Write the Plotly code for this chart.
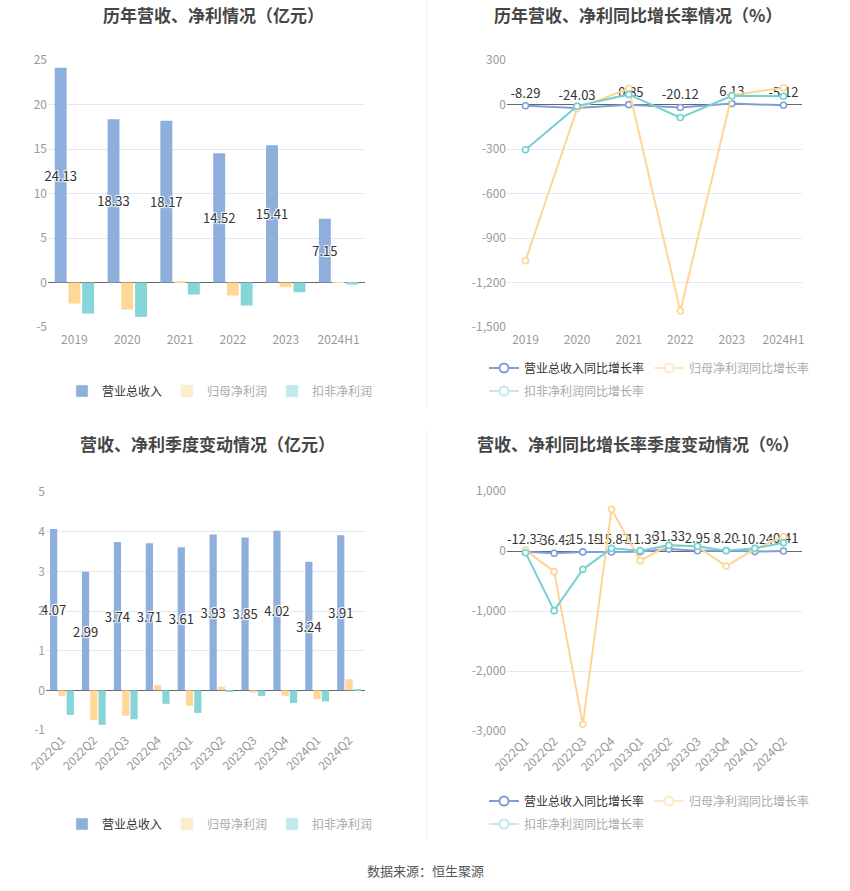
import plotly.graph_objects as go

# ---------------- data ----------------
years = ["2019", "2020", "2021", "2022", "2023", "2024H1"]
rev_year = [24.13, 18.33, 18.17, 14.52, 15.41, 7.15]
np_year = [-2.36, -3.04, 0.12, -1.46, -0.52, -0.04]
dnp_year = [-3.49, -3.86, -1.35, -2.59, -1.09, -0.22]

rev_yoy_year = [-8.29, -24.03, -0.85, -20.12, 6.13, -5.12]
np_yoy_year = [-1053, -27, 108, -1392, 63, 113]
dnp_yoy_year = [-305, -11, 68, -88, 59, 56]

quarters = ["2022Q1", "2022Q2", "2022Q3", "2022Q4", "2023Q1",
            "2023Q2", "2023Q3", "2023Q4", "2024Q1", "2024Q2"]
rev_q = [4.07, 2.99, 3.74, 3.71, 3.61, 3.93, 3.85, 4.02, 3.24, 3.91]
np_q = [-0.14, -0.75, -0.64, 0.13, -0.39, 0.09, -0.06, -0.14, -0.22, 0.28]
dnp_q = [-0.62, -0.87, -0.73, -0.34, -0.57, -0.03, -0.14, -0.32, -0.28, 0.03]

rev_yoy_q = [-12.37, -36.42, -15.15, -15.87, -11.39, 31.33, 2.95, 8.20, -10.24, -0.41]
np_yoy_q = [15, -344, -2889, 694, -161, 100, 72, -250, 33, 239]
dnp_yoy_q = [-28, -994, -306, 44, 6, 94, 78, 6, 44, 139]

ticks_tl = [-5, 0, 5, 10, 15, 20, 25]
ticks_tr = [-1500, -1200, -900, -600, -300, 0, 300]
ticks_tr_txt = ["-1,500", "-1,200", "-900", "-600", "-300", "0", "300"]
ticks_bl = [-1, 0, 1, 2, 3, 4, 5]
ticks_br = [-3000, -2000, -1000, 0, 1000]
ticks_br_txt = ["-3,000", "-2,000", "-1,000", "0", "1,000"]

names_bar = ["营业总收入", "归母净利润", "扣非净利润"]
names_line = ["营业总收入同比增长率", "归母净利润同比增长率", "扣非净利润同比增长率"]

# ---------------- style ----------------
W, H = 850, 891
C_BLUE, C_ORANGE, C_TEAL = "#8eafdc", "#ffd796", "#86d5d8"
C_BLUE_L, C_ORANGE_L, C_TEAL_L = "#7f9fd9", "#ffd591", "#74d1d3"
LEG_BAR = ["#8eafdc", "#ffecca", "#c2eaec"]
LEG_LINE = ["#7f9fd9", "#ffe9c2", "#bfe9ea"]
LEG_TXT = ["#333333", "#aaaaaa", "#aaaaaa"]
FONT = "Noto Sans CJK SC"
GRID = "#e3e8f3"
TICK = "#9a9a9a"
SHADOW = "1px 1px 1px #fff, -1px -1px 1px #fff, 1px -1px 1px #fff, -1px 1px 1px #fff"


def px_x(a, b):
    return [a / W, b / W]


def px_y(top, bottom):
    return [1 - bottom / H, 1 - top / H]


fig = go.Figure()


def add_bars(xa, ya, cats, series, leg, label_idx=0):
    colors = [C_BLUE, C_ORANGE, C_TEAL]
    for i, vals in enumerate(series):
        fig.add_trace(go.Bar(
            x=cats, y=vals, xaxis=xa, yaxis=ya, offsetgroup=str(i),
            marker=dict(color=colors[i], line=dict(width=0)),
            text=[f"{v:.2f}" for v in vals] if i == label_idx else None,
            textposition="inside" if i == label_idx else "none",
            insidetextanchor="middle",
            textangle=0,
            textfont=dict(size=13, color="#333", family=FONT, shadow=SHADOW),
            cliponaxis=False,
            showlegend=False, hoverinfo="skip",
        ))
    for i, nm in enumerate(names_bar):
        fig.add_trace(go.Bar(
            x=[None], y=[None], xaxis=xa, yaxis=ya, offsetgroup=str(i),
            marker=dict(color=LEG_BAR[i]),
            name=f"<span style='color:{LEG_TXT[i]}'>{nm}</span>",
            legend=leg, showlegend=True, hoverinfo="skip",
        ))


def add_lines(xa, ya, cats, series, legs):
    colors = [C_BLUE_L, C_ORANGE_L, C_TEAL_L]
    for i, vals in enumerate(series):
        fig.add_trace(go.Scatter(
            x=cats, y=vals, xaxis=xa, yaxis=ya,
            mode="lines+markers+text" if i == 0 else "lines+markers",
            line=dict(color=colors[i], width=2),
            marker=dict(symbol="circle", size=6, color="#fff",
                        line=dict(color=colors[i], width=1.6)),
            text=[f"{v:.2f}" for v in vals] if i == 0 else None,
            textposition="top center",
            textfont=dict(size=13, color="#333", family=FONT, shadow=SHADOW),
            cliponaxis=False,
            showlegend=False, hoverinfo="skip",
        ))
    for i, nm in enumerate(names_line):
        fig.add_trace(go.Scatter(
            x=[None], y=[None], xaxis=xa, yaxis=ya, mode="lines+markers",
            line=dict(color=LEG_LINE[i], width=2),
            marker=dict(symbol="circle", size=9, color="#fff",
                        line=dict(color=LEG_LINE[i], width=2)),
            name=f"<span style='color:{LEG_TXT[i]}'>{nm}</span>",
            legend=legs[0] if i < 2 else legs[1], showlegend=True, hoverinfo="skip",
        ))


add_bars("x", "y", years, [rev_year, np_year, dnp_year], "legend")
add_lines("x2", "y2", years, [rev_yoy_year, np_yoy_year, dnp_yoy_year], ("legend2", "legend5"))
add_bars("x3", "y3", quarters, [rev_q, np_q, dnp_q], "legend3")
add_lines("x4", "y4", quarters, [rev_yoy_q, np_yoy_q, dnp_yoy_q], ("legend4", "legend6"))

xcommon = dict(showgrid=False, showline=False, ticks="", type="category",
               tickfont=dict(size=12, color=TICK, family=FONT), fixedrange=True)
ycommon = dict(showgrid=True, gridcolor=GRID, gridwidth=1, showline=False, ticks="",
               zeroline=True, zerolinecolor="#666", zerolinewidth=1,
               tickfont=dict(size=12, color=TICK, family=FONT), fixedrange=True)


def leg(xp, yp):
    return dict(orientation="h", x=xp / W, y=1 - yp / H, xanchor="left", yanchor="middle",
                font=dict(size=12, family=FONT), itemwidth=30,
                bgcolor="rgba(0,0,0,0)")


fig.update_layout(
    width=W, height=H,
    margin=dict(l=0, r=0, t=0, b=0, autoexpand=False),
    paper_bgcolor="#fff", plot_bgcolor="#fff",
    barmode="group", bargap=0.22, bargroupgap=0.13,
    uniformtext=dict(minsize=13, mode="show"),
    font=dict(family=FONT, color="#333"),
    xaxis=dict(domain=px_x(48, 365), anchor="y", tickangle=0, ticklabelstandoff=4, **xcommon),
    yaxis=dict(domain=px_y(60, 327), anchor="x", range=[-5, 25],
               tickvals=ticks_tl, ticktext=[str(t) for t in ticks_tl], **ycommon),
    xaxis2=dict(domain=px_x(507, 802), anchor="y2", tickangle=0, ticklabelstandoff=4, **xcommon),
    yaxis2=dict(domain=px_y(60, 327), anchor="x2", range=[-1500, 300],
                tickvals=ticks_tr, ticktext=ticks_tr_txt, **ycommon),
    xaxis3=dict(domain=px_x(46, 365), anchor="y3", tickangle=-45, **xcommon),
    yaxis3=dict(domain=px_y(492, 730), anchor="x3", range=[-1, 5],
                tickvals=ticks_bl, ticktext=[str(t) for t in ticks_bl], **ycommon),
    xaxis4=dict(domain=px_x(507, 802), anchor="y4", tickangle=-45, **xcommon),
    yaxis4=dict(domain=px_y(491, 731), anchor="x4", range=[-3000, 1000],
                tickvals=ticks_br, ticktext=ticks_br_txt, **ycommon),
    legend=leg(62, 391),
    legend2=leg(484, 368),
    legend5=leg(484, 391),
    legend3=leg(62, 824),
    legend4=leg(484, 801),
    legend6=leg(484, 824),
)

titles = [
    ("历年营收、净利情况（亿元）", 213, 14),
    ("历年营收、净利同比增长率情况（%）", 638, 14),
    ("营收、净利季度变动情况（亿元）", 207, 444),
    ("营收、净利同比增长率季度变动情况（%）", 638, 444),
]
for txt, cx, cy in titles:
    fig.add_annotation(text=f"<b>{txt}</b>", x=cx / W, y=1 - cy / H, xref="paper", yref="paper",
                       showarrow=False, xanchor="center", yanchor="middle",
                       font=dict(size=17, color="#464646", family=FONT))

fig.add_annotation(text="数据来源：恒生聚源", x=425 / W, y=1 - 870 / H, xref="paper", yref="paper",
                   showarrow=False, xanchor="center", yanchor="middle",
                   font=dict(size=13, color="#555", family=FONT))

for y0, y1 in [(0, 408), (430, 840)]:
    fig.add_shape(type="line", xref="paper", yref="paper",
                  x0=427 / W, x1=427 / W, y0=1 - y1 / H, y1=1 - y0 / H,
                  line=dict(color="#eeeeee", width=1))

fig.write_html("out.html", config={"displayModeBar": False},
               post_script="document.body.style.margin='0';")
